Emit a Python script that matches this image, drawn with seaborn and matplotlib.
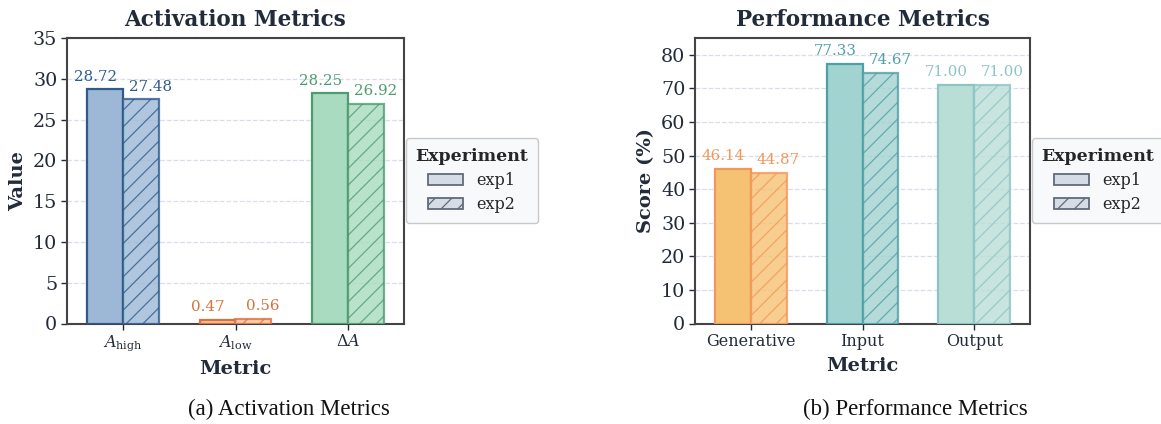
import pandas as pd
import seaborn as sns
import matplotlib.pyplot as plt
from matplotlib.patches import Patch

# data
act_metrics = [r"$A_{\mathrm{high}}$", r"$A_{\mathrm{low}}$", r"$\Delta A$"]
act_exp1 = [28.72, 0.47, 28.25]
act_exp2 = [27.48, 0.56, 26.92]

perf_metrics = ["Generative", "Input", "Output"]
perf_exp1 = [46.14, 77.33, 71.00]
perf_exp2 = [44.87, 74.67, 71.00]

experiments = ["exp1", "exp2"]

act_fill = ["#9cb8d6", "#f5c3a0", "#a8dbbf"]
act_edge = ["#2f5b8a", "#d9713a", "#4f9b70"]
act_text = ["#2f5b8a", "#d9713a", "#4f9b70"]
perf_fill = ["#f5c273", "#a1d3d0", "#b9ded6"]
perf_edge = ["#f3965a", "#4e9fa8", "#8cc4c4"]
perf_text = ["#f3965a", "#4e9fa8", "#8cc4c4"]

sns.set_theme(style="white")
plt.rcParams["font.family"] = ["DejaVu Serif"]
plt.rcParams["mathtext.fontset"] = "dejavuserif"
plt.rcParams["hatch.linewidth"] = 0.9

DARK = "#222b3a"

fig = plt.figure(figsize=(11.61, 4.24), dpi=100)
ax1 = fig.add_axes([67 / 1161, 100.5 / 424, 337 / 1161, 285.5 / 424])
ax2 = fig.add_axes([695 / 1161, 100.5 / 424, 335 / 1161, 285.5 / 424])


def make_df(metrics, e1, e2):
    return pd.DataFrame({
        "Metric": metrics * 2,
        "Value": e1 + e2,
        "Experiment": [experiments[0]] * len(metrics) + [experiments[1]] * len(metrics),
    })


def draw(ax, df, fills, edges, texts, title, ylabel, ylim, yticks):
    sns.barplot(data=df, x="Metric", y="Value", hue="Experiment", ax=ax,
                width=0.64, legend=False, errorbar=None, zorder=3)
    for h, cont in enumerate(ax.containers):
        for i, bar in enumerate(cont):
            bar.set_facecolor(fills[i])
            bar.set_edgecolor(edges[i])
            bar.set_linewidth(1.6)
            if h == 1:
                bar.set_alpha(0.8)
                bar.set_hatch("//")
            val = bar.get_height()
            dx = -7 if h == 0 else 7
            ax.annotate(f"{val:.2f}", (bar.get_x() + bar.get_width() / 2, val),
                        xytext=(dx, 4), textcoords="offset points",
                        ha="center", va="bottom", fontsize=10.8, color=texts[i])
    ax.set_ylim(*ylim)
    ax.set_yticks(yticks)
    ax.set_title(title, fontsize=15.5, fontweight="bold", color=DARK, pad=8.6)
    ax.set_xlabel("Metric", fontsize=14, fontweight="bold", color=DARK, labelpad=5)
    ax.set_ylabel(ylabel, fontsize=14, fontweight="bold", color=DARK, labelpad=4)
    ax.tick_params(axis="both", labelsize=13.8, colors=DARK, length=4, width=1,
                   bottom=True, left=True, pad=3)
    ax.tick_params(axis="x", labelsize=11.5)
    ax.yaxis.grid(True, linestyle="--", color="#dcdcea", linewidth=0.9, zorder=0)
    ax.set_axisbelow(True)
    for s in ax.spines.values():
        s.set_color("#444444")
        s.set_linewidth(1.5)
    handles = [
        Patch(facecolor="#d6dce5", edgecolor="#606b7a", linewidth=1.3, label="exp1"),
        Patch(facecolor="#d6dce5", edgecolor="#606b7a", linewidth=1.3, hatch="//",
              label="exp2"),
    ]
    leg = ax.legend(handles=handles, title="Experiment", loc="center left",
                    bbox_to_anchor=(1.005, 0.5), borderaxespad=0, fontsize=11.5,
                    frameon=True, fancybox=True, framealpha=1, handlelength=2.2,
                    borderpad=0.6, labelspacing=0.45)
    leg.get_title().set_fontweight("bold")
    leg.get_title().set_fontsize(12.5)
    leg.get_frame().set_facecolor("#f8f9fb")
    leg.get_frame().set_edgecolor("#c8c8c8")


draw(ax1, make_df(act_metrics, act_exp1, act_exp2), act_fill, act_edge, act_text,
     "Activation Metrics", "Value", (0, 35), range(0, 36, 5))
draw(ax2, make_df(perf_metrics, perf_exp1, perf_exp2), perf_fill, perf_edge, perf_text,
     "Performance Metrics", "Score (%)", (0, 85), range(0, 81, 10))

fig.text(289 / 1161, 1 - 409 / 424, "(a) Activation Metrics", ha="center", va="center",
         fontsize=16.5, family="Liberation Serif", color="#111111")
fig.text(915 / 1161, 1 - 409 / 424, "(b) Performance Metrics", ha="center", va="center",
         fontsize=16.5, family="Liberation Serif", color="#111111")

fig.savefig("out.png", dpi=100)
